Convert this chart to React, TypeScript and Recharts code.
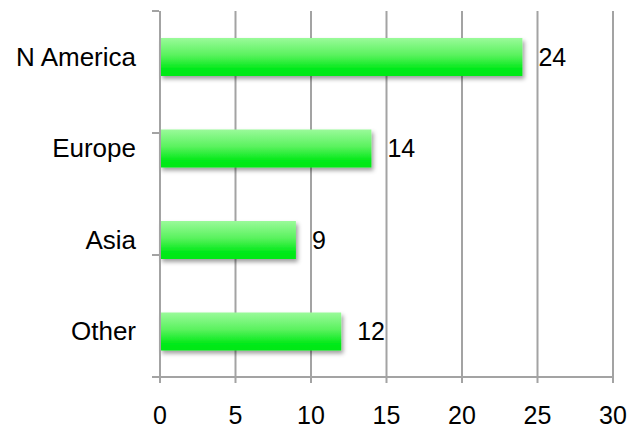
import { BarChart, Bar, XAxis, YAxis, CartesianGrid, LabelList } from 'recharts'

const regions = ['N America', 'Europe', 'Asia', 'Other']
const counts = [24, 14, 9, 12]
const xTicks = [0, 5, 10, 15, 20, 25, 30]
const bandEdges = [0, 1, 2, 3, 4]

const data = regions.map((name, i) => ({ name, value: counts[i] }))

const axisGray = '#a3a3a3'
const font = 'Liberation Sans, Arial, Helvetica, sans-serif'

// keeps the tick marks but draws no text
const NoLabel = () => <g />

// single-line category label, right-aligned against the axis
const CategoryTick = ({ x, y, payload }: any) => (
  <text x={x} y={y} dy="0.355em" textAnchor="end" fill="#000" fontSize={26}>
    {payload.value}
  </text>
)

export default function App() {
  return (
    <div style={{ position: 'absolute', left: 0, top: 0, background: '#fff' }}>
      <BarChart
        width={630}
        height={429}
        data={data}
        layout="vertical"
        margin={{ top: 11, right: 17, bottom: 0, left: 0 }}
        style={{ fontFamily: font }}
      >
        <defs>
          <linearGradient id="barFill" x1="0" y1="0" x2="0" y2="1">
            <stop offset="0%" stopColor="#9afa9a" />
            <stop offset="45%" stopColor="#5af25e" />
            <stop offset="80%" stopColor="#06ea1c" />
            <stop offset="100%" stopColor="#00e812" />
          </linearGradient>
          <filter id="barShadow" x="-5%" y="-20%" width="115%" height="160%">
            <feDropShadow dx="2" dy="3" stdDeviation="2.2" floodColor="#000" floodOpacity="0.38" />
          </filter>
        </defs>
        <CartesianGrid
          horizontal={false}
          vertical
          stroke={axisGray}
          strokeWidth={2}
          verticalValues={xTicks}
        />
        <XAxis
          type="number"
          domain={[0, 30]}
          ticks={xTicks}
          interval={0}
          height={52}
          tickSize={6}
          tickMargin={23}
          axisLine={{ stroke: axisGray, strokeWidth: 2 }}
          tickLine={{ stroke: axisGray, strokeWidth: 2 }}
          tick={{ fill: '#000', fontSize: 25 }}
        />
        {/* category labels on a thin axis right at the plot edge */}
        <YAxis
          type="category"
          dataKey="name"
          width={1}
          tickSize={0}
          tickMargin={24}
          axisLine={{ stroke: axisGray, strokeWidth: 2 }}
          tickLine={false}
          tick={CategoryTick}
        />
        {/* outer axis: only tick marks at the category band edges */}
        <YAxis
          yAxisId="edges"
          type="number"
          domain={[0, 4]}
          ticks={bandEdges}
          interval={0}
          reversed
          width={159}
          tickSize={7}
          tick={NoLabel}
          axisLine={false}
          tickLine={{ stroke: axisGray, strokeWidth: 2 }}
        />
        <Bar
          dataKey="value"
          barSize={38}
          fill="url(#barFill)"
          filter="url(#barShadow)"
          isAnimationActive={false}
        >
          <LabelList dataKey="value" position="right" offset={16} fill="#000" fontSize={25} />
        </Bar>
      </BarChart>
    </div>
  )
}
